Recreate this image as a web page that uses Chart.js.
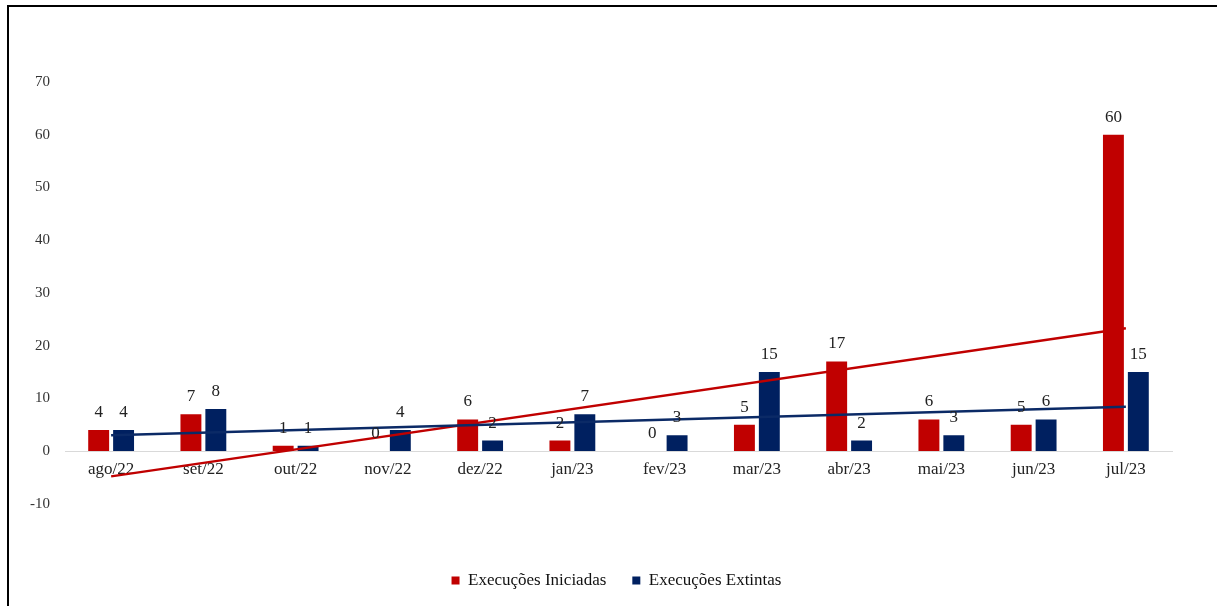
<!DOCTYPE html>
<html>
<head>
<meta charset="utf-8">
<script src="https://cdn.jsdelivr.net/npm/chart.js@4.4.0/dist/chart.umd.min.js"></script>
<style>
    body { margin: 0; background: #fff; }
    #wrap { position: relative; width: 1217px; height: 606px; overflow: hidden; }
    #frame {
        position: absolute; left: 7px; top: 5px; width: 1220px; height: 620px;
        border-top: 2px solid #000; border-left: 2px solid #000;
    }
    canvas { position: absolute; left: 0; top: 0; }
</style>
</head>
<body>
<div id="wrap">
    <canvas id="execucoesChart" width="1217" height="606"></canvas>
    <div id="frame"></div>
</div>
<script>
// Dados do gráfico
const meses = ['ago/22', 'set/22', 'out/22', 'nov/22', 'dez/22', 'jan/23', 'fev/23', 'mar/23', 'abr/23', 'mai/23', 'jun/23', 'jul/23'];
const iniciadas = [4, 7, 1, 0, 6, 2, 0, 5, 17, 6, 5, 60];
const extintas = [4, 8, 1, 4, 2, 7, 3, 15, 2, 3, 6, 15];
// Linhas de tendência (valor no primeiro e no último mês)
const tendenciaIniciadas = [-4.8, 23.3];
const tendenciaExtintas = [3.0, 8.4];
const ticksY = [-10, 0, 10, 20, 30, 40, 50, 60, 70];

const fonte = "'Liberation Serif', 'Times New Roman', serif";
const vermelho = '#C00000';
const azul = '#002060';

// Rótulos de dados acima das barras
const rotulosPlugin = {
    id: 'rotulos',
    afterDatasetsDraw(chart) {
        const ctx = chart.ctx;
        const zeroY = chart.scales.y.getPixelForValue(0);
        ctx.save();
        ctx.font = '17px ' + fonte;
        ctx.fillStyle = '#222';
        ctx.textAlign = 'center';
        ctx.textBaseline = 'alphabetic';
        chart.data.datasets.forEach((ds, i) => {
            if (ds.type !== 'bar') return;
            chart.getDatasetMeta(i).data.forEach((bar, j) => {
                const topo = Math.min(bar.y, zeroY);
                ctx.fillText(ds.data[j], bar.x, topo - 13);
            });
        });
        ctx.restore();
    }
};

const ctx = document.getElementById('execucoesChart').getContext('2d');
const execucoesChart = new Chart(ctx, {
    data: {
        labels: meses,
        datasets: [
            {
                type: 'bar',
                label: 'Execuções Iniciadas',
                data: iniciadas,
                backgroundColor: vermelho,
                categoryPercentage: 0.54,
                barPercentage: 0.84,
                order: 2
            },
            {
                type: 'bar',
                label: 'Execuções Extintas',
                data: extintas,
                backgroundColor: azul,
                categoryPercentage: 0.54,
                barPercentage: 0.84,
                order: 2
            },
            {
                type: 'line',
                label: 'tendIniciadas',
                data: [{ x: meses[0], y: tendenciaIniciadas[0] }, { x: meses[meses.length - 1], y: tendenciaIniciadas[1] }],
                borderColor: vermelho,
                borderWidth: 2.5,
                pointRadius: 0,
                fill: false,
                order: 1
            },
            {
                type: 'line',
                label: 'tendExtintas',
                data: [{ x: meses[0], y: tendenciaExtintas[0] }, { x: meses[meses.length - 1], y: tendenciaExtintas[1] }],
                borderColor: '#0B2A66',
                borderWidth: 2.5,
                pointRadius: 0,
                fill: false,
                order: 0
            }
        ]
    },
    options: {
        responsive: false,
        animation: false,
        layout: {
            padding: { left: 16, right: 0, top: 82, bottom: 7 }
        },
        scales: {
            x: {
                position: { y: 0 },
                grid: { display: false, drawTicks: false },
                border: { display: true, color: '#d9d9d9', width: 1 },
                ticks: {
                    padding: 8,
                    color: '#222',
                    maxRotation: 0,
                    font: { family: fonte, size: 17 }
                }
            },
            y: {
                min: -10,
                max: 70,
                afterFit: (scale) => { scale.width = 49; },
                afterBuildTicks: (scale) => { scale.ticks = ticksY.map(v => ({ value: v })); },
                grid: { display: false, drawTicks: false },
                border: { display: false },
                ticks: {
                    padding: 15,
                    color: '#333',
                    font: { family: fonte, size: 15 }
                }
            },
            // eixo vazio à direita, só para reservar espaço
            yDireita: {
                position: 'right',
                afterFit: (scale) => { scale.width = 45; },
                grid: { display: false, drawTicks: false },
                border: { display: false },
                ticks: { display: false }
            }
        },
        plugins: {
            tooltip: { enabled: false },
            legend: {
                position: 'bottom',
                title: { display: true, text: '', font: { size: 1 }, padding: { top: 41, bottom: 0 } },
                labels: {
                    boxWidth: 8,
                    boxHeight: 8,
                    padding: 26,
                    color: '#111',
                    font: { family: fonte, size: 17 },
                    filter: (item) => item.datasetIndex < 2
                }
            }
        }
    },
    plugins: [rotulosPlugin]
});
</script>
</body>
</html>
